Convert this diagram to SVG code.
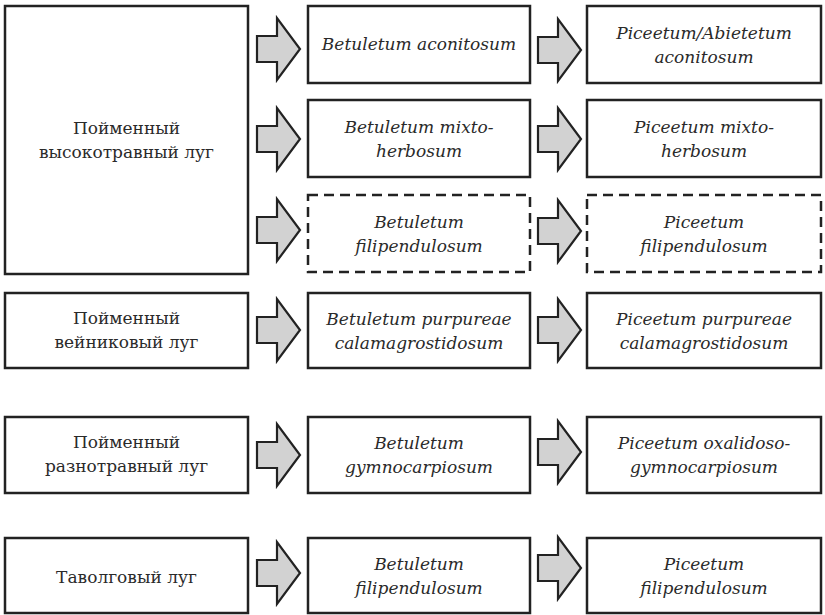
<svg xmlns="http://www.w3.org/2000/svg" width="825" height="615" viewBox="0 0 825 615">
<style>
.box{fill:#fff;stroke:#222;stroke-width:2.5}
.dash{fill:#fff;stroke:#222;stroke-width:2.5;stroke-dasharray:10 6}
.arr{fill:#d2d2d2;stroke:#222;stroke-width:2.2;stroke-linejoin:miter}
text{font-family:"DejaVu Serif","Liberation Serif","Times New Roman",serif;font-size:17px;fill:#2a2a2a;text-anchor:middle}
.i{font-style:italic}
</style>
<defs>
<path id="arrow" class="arr" d="M0,-13 H20 V-31 L43,0 L20,31 V13 H0 Z"/>
</defs>
<rect width="825" height="615" fill="#fff"/>
<g id="left1"><rect class="box" x="5" y="6" width="243" height="268"/><text x="126.5" y="134">Пойменный</text><text x="126.5" y="158">высокотравный луг</text></g>
<g id="left2"><rect class="box" x="5" y="293" width="243" height="75"/><text x="126.5" y="324">Пойменный</text><text x="126.5" y="348">вейниковый луг</text></g>
<g id="left3"><rect class="box" x="5" y="417" width="243" height="76"/><text x="126.5" y="448">Пойменный</text><text x="126.5" y="472">разнотравный луг</text></g>
<g id="left4"><rect class="box" x="5" y="538" width="243" height="75"/><text x="126.5" y="583">Таволговый луг</text></g>

<g id="mid1"><rect class="box" x="308" y="6" width="222" height="77"/><text class="i" x="419" y="50">Betuletum aconitosum</text></g>
<g id="mid2"><rect class="box" x="308" y="100" width="222" height="77"/><text class="i" x="419" y="133">Betuletum mixto-</text><text class="i" x="419" y="157">herbosum</text></g>
<g id="mid3"><rect class="dash" x="308" y="195" width="222" height="77"/><text class="i" x="419" y="228">Betuletum</text><text class="i" x="419" y="252">filipendulosum</text></g>
<g id="mid4"><rect class="box" x="308" y="293" width="222" height="75"/><text class="i" x="419" y="325">Betuletum purpureae</text><text class="i" x="419" y="349">calamagrostidosum</text></g>
<g id="mid5"><rect class="box" x="308" y="417" width="222" height="76"/><text class="i" x="419" y="449">Betuletum</text><text class="i" x="419" y="473">gymnocarpiosum</text></g>
<g id="mid6"><rect class="box" x="308" y="538" width="222" height="75"/><text class="i" x="419" y="570">Betuletum</text><text class="i" x="419" y="594">filipendulosum</text></g>

<g id="right1"><rect class="box" x="587" y="6" width="234" height="77"/><text class="i" x="704" y="39">Piceetum/Abietetum</text><text class="i" x="704" y="63">aconitosum</text></g>
<g id="right2"><rect class="box" x="587" y="100" width="234" height="77"/><text class="i" x="704" y="133">Piceetum mixto-</text><text class="i" x="704" y="157">herbosum</text></g>
<g id="right3"><rect class="dash" x="587" y="195" width="234" height="77"/><text class="i" x="704" y="228">Piceetum</text><text class="i" x="704" y="252">filipendulosum</text></g>
<g id="right4"><rect class="box" x="587" y="293" width="234" height="75"/><text class="i" x="704" y="325">Piceetum purpureae</text><text class="i" x="704" y="349">calamagrostidosum</text></g>
<g id="right5"><rect class="box" x="587" y="417" width="234" height="76"/><text class="i" x="704" y="449">Piceetum oxalidoso-</text><text class="i" x="704" y="473">gymnocarpiosum</text></g>
<g id="right6"><rect class="box" x="587" y="538" width="234" height="75"/><text class="i" x="704" y="570">Piceetum</text><text class="i" x="704" y="594">filipendulosum</text></g>

<g id="connectors">
<use href="#arrow" x="257" y="49"/>
<use href="#arrow" x="257" y="139"/>
<use href="#arrow" x="257" y="230"/>
<use href="#arrow" x="257" y="330"/>
<use href="#arrow" x="257" y="455"/>
<use href="#arrow" x="257" y="573"/>
<use href="#arrow" x="538" y="50"/>
<use href="#arrow" x="538" y="139"/>
<use href="#arrow" x="538" y="231"/>
<use href="#arrow" x="538" y="330"/>
<use href="#arrow" x="538" y="452"/>
<use href="#arrow" x="538" y="568"/>
</g>
</svg>
